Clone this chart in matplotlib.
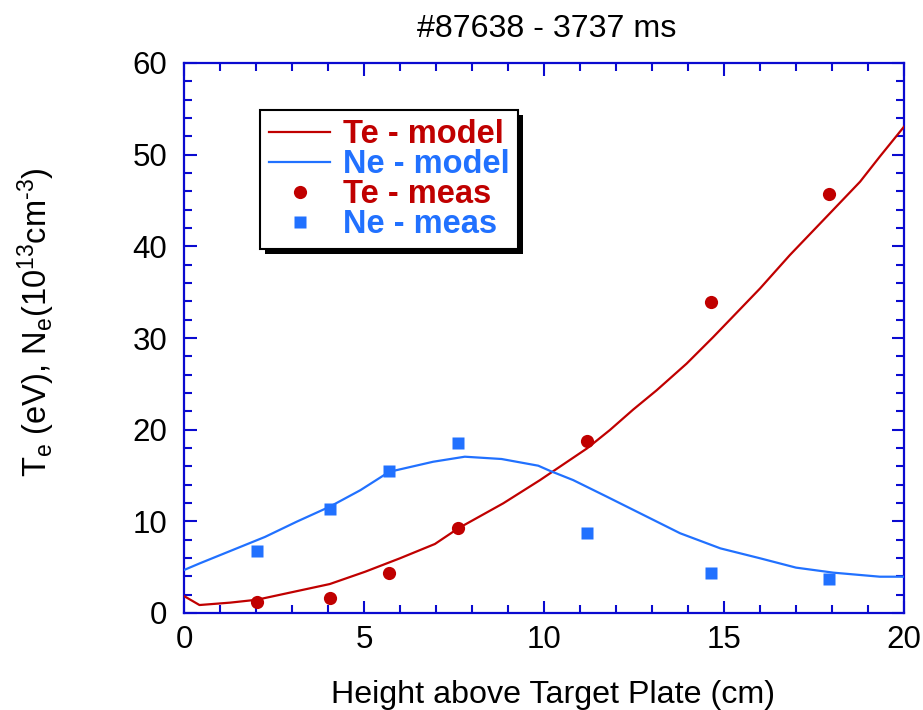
import matplotlib
matplotlib.use("Agg")
import matplotlib.pyplot as plt
from matplotlib.ticker import MultipleLocator
from matplotlib.patches import Rectangle
from matplotlib.transforms import IdentityTransform

plt.rcParams['font.family'] = ['Liberation Sans', 'DejaVu Sans']
plt.rcParams['mathtext.fontset'] = 'custom'
plt.rcParams['mathtext.rm'] = 'Liberation Sans'
plt.rcParams['mathtext.it'] = 'Liberation Sans:italic'
plt.rcParams['mathtext.bf'] = 'Liberation Sans:bold'

RED = '#C00000'
BLUE = '#2171FF'
AXC = '#0A0AD0'

# Model profiles
te_model_x = [0.0, 0.43, 1.28, 2.03, 4.05, 5.03, 6.0, 6.97, 7.62, 8.87, 9.89, 11.2,
              11.83, 12.48, 13.13, 13.96, 14.7, 16.0, 16.83, 17.94, 18.78, 19.33, 20.0]
te_model_y = [1.85, 0.87, 1.13, 1.45, 3.16, 4.5, 5.97, 7.53, 9.24, 11.97, 14.5, 17.97,
              19.96, 22.2, 24.3, 27.2, 30.1, 35.4, 39.05, 43.6, 47.05, 49.8, 53.05]

ne_model_x = [0.0, 0.44, 2.25, 3.13, 4.05, 4.9, 5.7, 6.92, 7.8, 8.82, 9.84, 10.17,
              10.81, 11.74, 12.76, 13.78, 14.9, 16.0, 17.0, 18.04, 19.33, 20.0]
ne_model_y = [4.69, 5.42, 8.3, 9.96, 11.6, 13.4, 15.4, 16.5, 17.05, 16.8, 16.07, 15.5,
              14.5, 12.7, 10.7, 8.7, 7.05, 5.97, 4.95, 4.4, 3.96, 3.96]

# Measurements
meas_x = [2.03, 4.05, 5.70, 7.62, 11.2, 14.65, 17.93]
te_meas = [1.23, 1.6, 4.33, 9.3, 18.76, 33.96, 45.74]
ne_meas = [6.8, 11.4, 15.5, 18.6, 8.7, 4.33, 3.7]

W, H = 923, 710
fig = plt.figure(figsize=(W / 100, H / 100), dpi=100)
ax = fig.add_axes([184 / W, 1 - 613 / H, (904 - 184) / W, (613 - 63) / H])

ax.plot(te_model_x, te_model_y, color=RED, lw=1.6, label='Te - model', zorder=3)
ax.plot(ne_model_x, ne_model_y, color=BLUE, lw=1.6, label='Ne - model', zorder=3)
ax.plot(meas_x, te_meas, 'o', color=RED, ms=9.5, mec='none', label='Te - meas', zorder=4)
ax.plot(meas_x, ne_meas, 's', color=BLUE, ms=9.3, mec='none', label='Ne - meas', zorder=4)

ax.set_xlim(0, 20)
ax.set_ylim(0, 60)
ax.xaxis.set_major_locator(MultipleLocator(5))
ax.xaxis.set_minor_locator(MultipleLocator(1))
ax.yaxis.set_major_locator(MultipleLocator(10))
ax.yaxis.set_minor_locator(MultipleLocator(2))

for s in ax.spines.values():
    s.set_color(AXC)
    s.set_linewidth(1.6)
ax.tick_params(which='both', direction='in', top=True, right=True, color=AXC,
               width=1.5, labelsize=22.5, labelcolor='black')
ax.tick_params(which='major', length=9)
ax.tick_params(which='minor', length=5.5)
ax.tick_params(axis='y', which='major', pad=12)
ax.tick_params(axis='x', which='major', pad=9)

fig.text(547 / W, 1 - 37 / H, '#87638 - 3737 ms', ha='center', va='baseline', fontsize=23.2)
fig.text(553 / W, 1 - 695 / H, 'Height above Target Plate (cm)', ha='center', va='center',
         fontsize=23.2)
fig.text(36 / W, 1 - 322 / H,
         r'T$_{\rm e}$ (eV), N$_{\rm e}$(10$^{13}$cm$^{\text{-3}}$)',
         ha='center', va='center', rotation=90, fontsize=23.5)

leg = ax.legend(loc='upper left', bbox_to_anchor=((260 - 184) / 720, (613 - 110) / 550),
                borderaxespad=0, fancybox=False, frameon=True, edgecolor='black',
                framealpha=1, handlelength=1.87, handletextpad=0.38, borderpad=0.28,
                labelspacing=-0.03, prop={'weight': 'bold', 'size': 23.5}, numpoints=1)
leg.get_frame().set_linewidth(1.5)
for txt, c in zip(leg.get_texts(), [RED, BLUE, RED, BLUE]):
    txt.set_color(c)
leg.set_zorder(6)

fig.canvas.draw()
bb = leg.get_window_extent()
shadow = Rectangle((bb.x0 + 5, bb.y0 - 5), bb.width, bb.height, transform=IdentityTransform(),
                   facecolor='black', edgecolor='none', zorder=5.5)
ax.add_artist(shadow)

fig.savefig('out.png', dpi=100)
